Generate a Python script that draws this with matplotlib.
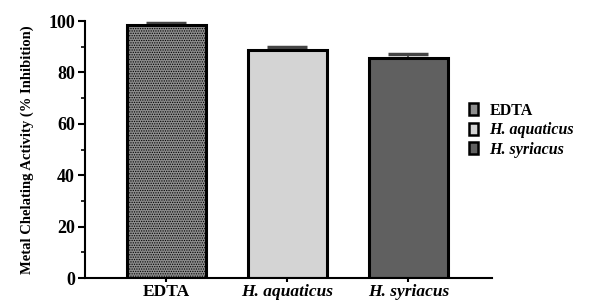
import matplotlib.pyplot as plt
import numpy as np
from matplotlib.patches import Patch

plt.rcParams['font.family'] = ['Liberation Serif', 'DejaVu Serif']
plt.rcParams['font.weight'] = 'bold'
plt.rcParams['hatch.linewidth'] = 0.6

# data
samples = ['EDTA', 'H. aquaticus', 'H. syriacus']
inhibition = [98.4, 88.6, 85.5]
sd = [1.0, 1.2, 1.5]
colors = ['#8e8e8e', '#d4d4d4', '#606060']
styles = ['normal', 'italic', 'italic']

fig = plt.figure(figsize=(5.97, 3.0), dpi=100)
ax = fig.add_axes([0.142, 0.073, 0.682, 0.857])

x = np.arange(len(samples))
bars = ax.bar(x, inhibition, width=0.65, color=colors, edgecolor='black', linewidth=2.2, zorder=2)
# dotted texture on EDTA bar
bars[0].set_hatch('.......')
ax.errorbar(x, inhibition, yerr=sd, fmt='none', ecolor='#444444', elinewidth=1.2,
            capsize=14.5, capthick=2.5, zorder=1)

ax.set_xlim(-0.674, 2.69)
ax.set_ylim(0, 100)
ax.set_yticks([0, 20, 40, 60, 80, 100])
ax.set_yticks(np.arange(10, 100, 20), minor=True)
ax.set_xticks(x)
ax.set_xticklabels(samples)
for lbl, st in zip(ax.get_xticklabels(), styles):
    lbl.set_style(st)
    lbl.set_fontweight('bold')
    lbl.set_fontsize(12.5)
for lbl in ax.get_yticklabels():
    lbl.set_fontweight('bold')
    lbl.set_fontsize(13)

ax.spines['top'].set_visible(False)
ax.spines['right'].set_visible(False)
ax.spines['left'].set_linewidth(1.5)
ax.spines['bottom'].set_linewidth(1.5)
ax.tick_params(axis='y', which='major', length=5, width=1.5, pad=2)
ax.tick_params(axis='y', which='minor', length=3, width=1.2)
ax.tick_params(axis='x', length=3, width=1.5, pad=1)

ax.set_ylabel('Metal Chelating Activity (% Inhibition)', fontsize=10.5, fontweight='bold', labelpad=10)

handles = [Patch(facecolor=c, edgecolor='black', linewidth=1.8) for c in colors]
leg = fig.legend(handles, samples, loc='upper left', bbox_to_anchor=(0.762, 0.705),
                 frameon=False, handlelength=0.55, handleheight=0.8, handletextpad=0.7,
                 labelspacing=0.22, prop={'weight': 'bold', 'size': 11.5})
for t, st in zip(leg.get_texts(), styles):
    t.set_style(st)

fig.savefig('out.png', dpi=100)
